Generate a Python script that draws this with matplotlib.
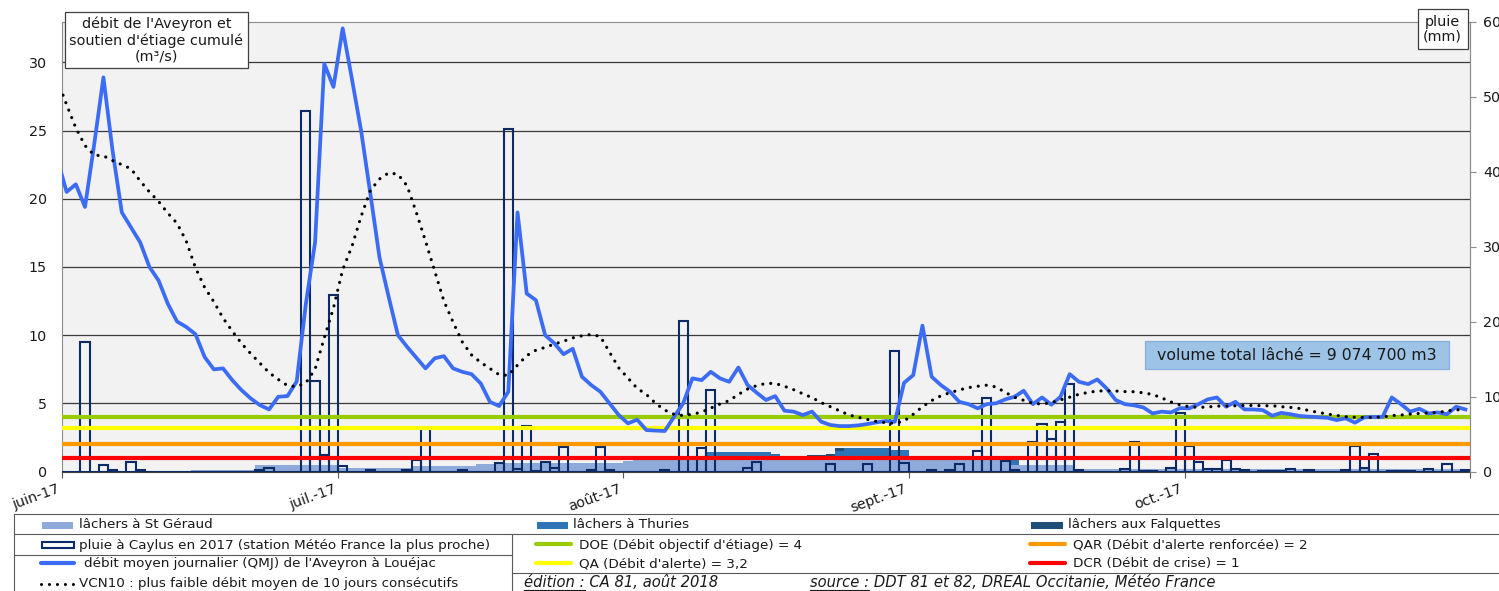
import numpy as np
import matplotlib.pyplot as plt
from matplotlib.lines import Line2D
from matplotlib.patches import Rectangle

# Aveyron à Louéjac - soutien d'étiage 2017
# x : jours depuis le 1er juin 2017 (0 = 1er juin ... 152 = 31 octobre)

mois_pos = [0, 30, 61, 92, 122, 153]
mois_lab = ['juin-17', 'juil.-17', 'août-17', 'sept.-17', 'oct.-17', '']

# débit moyen journalier QMJ (m3/s), premier point = 31 mai
qmj = [22.9,
       20.5, 21.06, 19.4, 24.0, 28.9, 23.5, 19.0, 17.9, 16.8, 15.0,
       14.0, 12.3, 11.0, 10.6, 10.07, 8.4, 7.49, 7.56, 6.7, 5.97,
       5.36, 4.87, 4.55, 5.48, 5.53, 6.6, 12.3, 16.8, 29.9, 28.2,
       32.5, 28.8, 25.0, 20.4, 15.7, 12.8, 10.0, 9.14, 8.35, 7.56,
       8.3, 8.46, 7.56, 7.31, 7.14, 6.46, 5.11, 4.8, 5.85, 19.0,
       13.05, 12.56, 10.0, 9.4, 8.6, 9.0, 6.95, 6.34, 5.85, 5.0, 4.14,
       3.53, 3.8, 3.04, 3.0, 2.97, 4.0, 5.0, 6.83, 6.7, 7.31,
       6.83, 6.58, 7.63, 6.34, 5.77, 5.24, 5.53, 4.46, 4.39, 4.14,
       4.39, 3.65, 3.41, 3.33, 3.33, 3.38, 3.48, 3.6, 3.7, 3.65, 6.5,
       7.07, 10.7, 6.95, 6.34, 5.85, 5.11, 4.94, 4.63, 4.94, 5.0,
       5.29, 5.48, 5.92, 4.94, 5.43, 4.9, 5.48, 7.14, 6.58, 6.41,
       6.75, 6.1, 5.24, 4.94, 4.85, 4.7, 4.26, 4.39, 4.33, 4.65,
       4.63, 4.94, 5.29, 5.43, 4.75, 5.11, 4.55, 4.55, 4.5, 4.09,
       4.3, 4.2, 4.07, 4.02, 3.98, 3.94, 3.77, 3.9, 3.58, 3.97,
       4.0, 4.0, 5.43, 4.94, 4.39, 4.6, 4.26, 4.33, 4.2, 4.75, 4.55]

# VCN10 (m3/s), premier point = 31 mai
vcn10 = [28.7,
         26.9, 25.2, 23.9, 23.2, 23.15, 22.8, 22.5, 22.2, 21.3, 20.5,
         19.8, 18.95, 18.2, 16.9, 14.95, 13.5, 12.45, 11.25, 10.3, 9.4,
         8.65, 7.95, 7.25, 6.75, 6.3, 6.22, 6.5, 7.5, 9.8, 12.0,
         14.8, 16.5, 18.7, 20.6, 21.45, 21.9, 21.8, 20.95, 19.0, 16.9,
         14.7, 12.5, 10.95, 9.5, 8.55, 8.0, 7.55, 7.1, 7.05, 7.8,
         8.5, 8.9, 9.1, 9.35, 9.55, 9.8, 9.95, 10.05, 9.9, 8.75, 7.6,
         6.85, 6.1, 5.65, 5.0, 4.5, 4.2, 4.1, 4.2, 4.35, 4.65,
         4.95, 5.2, 5.65, 6.05, 6.3, 6.46, 6.46, 6.25, 6.0, 5.7,
         5.42, 5.05, 4.75, 4.45, 4.15, 3.98, 3.82, 3.67, 3.58, 3.53, 3.7,
         4.2, 4.75, 5.2, 5.55, 5.78, 5.98, 6.15, 6.25, 6.33, 6.2,
         5.8, 5.45, 5.22, 5.0, 4.95, 5.05, 5.25, 5.45, 5.66, 5.8,
         5.9, 5.92, 5.9, 5.86, 5.85, 5.77, 5.65, 5.4, 5.1, 4.88,
         4.75, 4.7, 4.73, 4.8, 4.8, 4.82, 4.84, 4.84, 4.82, 4.82,
         4.75, 4.7, 4.62, 4.47, 4.33, 4.22, 4.11, 4.02, 3.97, 3.97,
         3.97, 4.0, 4.1, 4.14, 4.21, 4.26, 4.29, 4.33, 4.43, 4.55, 4.42]

# pluie journalière à Caylus (mm), 1er juin -> 31 octobre
pluie = [0, 0, 17.3, 0, 0.9, 0.15, 0, 1.3, 0.15, 0,
         0, 0, 0, 0, 0, 0, 0, 0, 0, 0,
         0, 0.2, 0.45, 0, 0, 0, 48.1, 12.1, 2.2, 23.5,
         0.75, 0, 0, 0.25, 0, 0, 0, 0.2, 1.5, 5.7,
         0, 0, 0, 0.25, 0, 0, 0, 1.1, 45.7, 0.4,
         6.1, 0.1, 1.3, 0.45, 3.3, 0, 0, 0.2, 3.3, 0.2, 0,
         0, 0, 0, 0, 0.2, 0, 20.1, 0, 3.2, 10.9,
         0, 0, 0, 0.5, 1.3, 0, 0, 0, 0, 0,
         0, 0, 0.95, 0, 0, 0, 0.95, 0, 0, 16.1, 1.1,
         0, 0, 0.2, 0, 0.2, 1.0, 0, 2.8, 9.85, 0,
         1.4, 0.2, 0, 3.9, 6.3, 4.3, 6.65, 11.7, 0.2, 0,
         0, 0, 0, 0.3, 4.0, 0.1, 0.1, 0, 0.45, 7.8,
         3.4, 1.25, 0.3, 0.3, 1.5, 0.4, 0.2, 0, 0.1, 0.1,
         0.1, 0.4, 0, 0.2, 0, 0, 0, 0.15, 3.4, 0.45,
         2.3, 0, 0.1, 0.1, 0.1, 0, 0.4, 0, 0.95, 0, 0.2]

# lâchers (m3/s), 1er juin -> 31 octobre
st_geraud = [0, 0, 0, 0, 0, 0, 0, 0, 0, 0,
             0, 0, 0, 0, 0.12, 0.12, 0.12, 0.12, 0.12, 0.12,
             0.12, 0.45, 0.45, 0.45, 0.45, 0.45, 0.45, 0.45, 0.45, 0.45,
             0.28, 0.28, 0.28, 0.28, 0.28, 0.28, 0.28, 0.28, 0.42, 0.42,
             0.42, 0.42, 0.42, 0.42, 0.42, 0.55, 0.55, 0.65, 0.65, 0.65,
             0.65, 0.65, 0.65, 0.65, 0.65, 0.65, 0.65, 0.65, 0.65, 0.65, 0.65,
             0.8, 0.95, 0.95, 0.95, 0.95, 0.95, 0.95, 0.95, 0.95, 0.95,
             0.95, 0.95, 0.95, 0.95, 0.95, 0.95, 0.95, 0.95, 0.95, 0.95,
             0.95, 0.95, 0.95, 0.95, 0.95, 0.95, 0.95, 0.95, 0.95, 0.95, 0.95,
             0.85, 0.85, 0.85, 0.85, 0.85, 0.85, 0.85, 0.85, 0.85, 0.85,
             0.85, 0.45, 0.45, 0.45, 0.45, 0.45, 0.45, 0.45, 0.2, 0.2,
             0.2, 0.2, 0.2, 0.2, 0.2, 0.2, 0.2, 0.2, 0.2, 0.2,
             0.2, 0.2, 0.2, 0.2, 0.2, 0.2, 0.2, 0.2, 0.2, 0.2,
             0.2, 0.2, 0.2, 0.2, 0.2, 0.2, 0.2, 0.2, 0.2, 0.2,
             0.2, 0.2, 0.2, 0.2, 0.2, 0.2, 0.2, 0.2, 0.2, 0.2, 0.2]

thuries = [0, 0, 0, 0, 0, 0, 0, 0, 0, 0,
           0, 0, 0, 0, 0, 0, 0, 0, 0, 0,
           0, 0, 0, 0, 0, 0, 0, 0, 0, 0,
           0, 0, 0, 0, 0, 0, 0, 0, 0, 0,
           0, 0, 0, 0, 0, 0, 0, 0, 0, 0,
           0, 0, 0, 0, 0, 0, 0, 0, 0, 0, 0,
           0, 0, 0, 0, 0, 0, 0, 0, 0, 0.45,
           0.45, 0.45, 0.45, 0.45, 0.45, 0.45, 0.35, 0, 0, 0,
           0, 0, 0, 0.55, 0.8, 0.8, 0.8, 0.8, 0.8, 0.65, 0.65,
           0, 0, 0, 0, 0, 0, 0, 0, 0, 0,
           0, 0.4, 0, 0, 0, 0, 0, 0, 0, 0,
           0, 0, 0, 0, 0, 0, 0, 0, 0, 0,
           0, 0, 0, 0, 0, 0, 0, 0, 0, 0,
           0, 0, 0, 0, 0, 0, 0, 0, 0, 0,
           0, 0, 0, 0, 0, 0, 0, 0, 0, 0, 0]

falquettes = [0, 0, 0, 0, 0, 0, 0, 0, 0, 0,
              0, 0, 0, 0, 0, 0, 0, 0, 0, 0,
              0, 0, 0, 0, 0, 0, 0, 0, 0, 0,
              0, 0, 0, 0, 0, 0, 0, 0, 0, 0,
              0, 0, 0, 0, 0, 0, 0, 0, 0, 0,
              0, 0, 0, 0, 0, 0, 0, 0, 0, 0, 0,
              0, 0, 0, 0.22, 0.22, 0.22, 0.22, 0.22, 0.22, 0,
              0, 0, 0, 0, 0, 0, 0, 0, 0, 0,
              0.25, 0.25, 0.35, 0.25, 0, 0, 0, 0, 0, 0, 0,
              0, 0, 0, 0.3, 0.3, 0.3, 0.3, 0.3, 0, 0,
              0, 0, 0, 0, 0, 0, 0, 0, 0, 0,
              0, 0, 0, 0, 0, 0, 0, 0, 0, 0,
              0, 0, 0, 0, 0, 0, 0, 0, 0, 0,
              0, 0, 0, 0, 0, 0, 0, 0, 0, 0,
              0, 0, 0, 0, 0, 0, 0, 0, 0, 0, 0]

# seuils (m3/s)
doe = 4
qa = 3.2
qar = 2
dcr = 1

volume_txt = 'volume total lâché = 9 074 700 m3'

c_stg = '#8eaadb'
c_thu = '#2e75b6'
c_fal = '#1f4e79'
c_pluie = '#0b2a66'
c_qmj = '#3c6cf5'
c_doe = '#99cc00'
c_qa = '#ffff00'
c_qar = '#ff9900'
c_dcr = '#ff0000'
c_txt = '#1a1a1a'

W, H = 1499, 591
fig = plt.figure(figsize=(W / 100, H / 100), dpi=100)
pos = [62 / W, 1 - 471.5 / H, (1470 - 62) / W, 450 / H]

jours = np.arange(len(pluie))
xq = np.arange(-1, len(pluie)) + 0.5

# axe du fond : lâchers + grille
ax = fig.add_axes(pos)
ax.set_zorder(1)
ax.set_facecolor('#f2f2f2')
ax.set_xlim(0, 153)
ax.set_ylim(0, 33)
ax.set_yticks(range(0, 31, 5))
ax.yaxis.grid(True, color='#3a3a3a', lw=0.9)
ax.set_axisbelow(True)
ax.bar(jours, st_geraud, width=1, align='edge', color=c_stg, lw=0)
b2 = np.array(st_geraud)
ax.bar(jours, thuries, width=1, align='edge', bottom=b2, color=c_thu, lw=0)
b3 = b2 + np.array(thuries)
ax.bar(jours, falquettes, width=1, align='edge', bottom=b3, color=c_fal, lw=0)
ax.set_xticks(mois_pos)
ax.set_xticklabels(mois_lab, rotation=20, ha='right', fontsize=10.3, color=c_txt)
ax.tick_params(axis='x', direction='out', length=4.5, color='#595959', pad=3)
ax.tick_params(axis='y', length=0, pad=11, labelsize=10.3, labelcolor=c_txt)
for s in ['left', 'top', 'right']:
    ax.spines[s].set_color('#8c8c8c')
ax.spines['bottom'].set_color('#404040')

# axe de droite : pluie
ax2 = ax.twinx()
ax2.set_zorder(2)
ax2.set_ylim(0, 60)
ax2.set_yticks(range(0, 61, 10))
ax2.tick_params(axis='y', direction='out', length=4.5, color='#8c8c8c', pad=5,
                labelsize=10.3, labelcolor=c_txt)
for s in ['left', 'top', 'bottom']:
    ax2.spines[s].set_visible(False)
ax2.spines['right'].set_color('#8c8c8c')
ax2.bar(jours, pluie, width=1, align='edge', fill=False, edgecolor=c_pluie, lw=1.5)

# axe de devant : débits et seuils
ax3 = fig.add_axes(pos, sharex=ax, sharey=ax)
ax3.set_zorder(3)
ax3.axis('off')
ax3.axhline(doe, color=c_doe, lw=3)
ax3.axhline(qa, color=c_qa, lw=3)
ax3.axhline(qar, color=c_qar, lw=3)
ax3.axhline(dcr, color=c_dcr, lw=3)
ax3.plot(xq, qmj, color=c_qmj, lw=2.7, solid_joinstyle='round')
ax3.plot(xq, vcn10, color='black', lw=2.3, linestyle=(0, (0.01, 2.5)),
         dash_capstyle='round')

# calque en pixels pour les cadres et la légende
lax = fig.add_axes([0, 0, 1, 1])
lax.set_zorder(4)
lax.set_xlim(0, W)
lax.set_ylim(H, 0)
lax.axis('off')


def boite(x0, y0, x1, y1, fc='white', ec='#404040'):
    lax.add_patch(Rectangle((x0, y0), x1 - x0, y1 - y0, facecolor=fc,
                            edgecolor=ec, lw=0.9))


boite(65, 11.7, 248, 68)
lax.text(156.5, 40, "débit de l'Aveyron et\nsoutien d'étiage cumulé\n(m³/s)",
         ha='center', va='center', fontsize=10.4, color=c_txt, linespacing=1.15)
boite(1417.7, 9.3, 1467.7, 49.3)
lax.text(1442.7, 29.5, 'pluie\n(mm)', ha='center', va='center', fontsize=10.4,
         color=c_txt, linespacing=1.05)
boite(1145, 340.7, 1449, 369, fc='#9dc3e6', ec='#84afe0')
lax.text(1297, 355, volume_txt, ha='center', va='center', fontsize=11.3, color=c_txt)

# tableau de légende
lc = '#595959'
for (x0, x1, y) in [(14, W, 514.3), (14, W, 534.3), (14, 511.7, 555), (511.7, W, 573.3)]:
    lax.add_line(Line2D([x0, x1], [y, y], color=lc, lw=0.8))
lax.add_line(Line2D([14, 14], [514.3, H], color=lc, lw=0.8))
lax.add_line(Line2D([511.7, 511.7], [534.3, H], color=lc, lw=0.8))

fs = 9.7
lax.add_patch(Rectangle((41.7, 521.5), 31.6, 7, color=c_stg, lw=0))
lax.text(79, 524.5, 'lâchers à St Géraud', va='center', fontsize=fs, color=c_txt)
lax.add_patch(Rectangle((536.7, 521.5), 31.6, 7, color=c_thu, lw=0))
lax.text(573.3, 524.5, 'lâchers à Thuries', va='center', fontsize=fs, color=c_txt)
lax.add_patch(Rectangle((1030.7, 521.5), 32.6, 7, color=c_fal, lw=0))
lax.text(1068.3, 524.5, 'lâchers aux Falquettes', va='center', fontsize=fs, color=c_txt)

lax.add_patch(Rectangle((42, 541.7), 32, 6.6, fill=False, edgecolor=c_pluie, lw=1.5))
lax.text(79, 545, 'pluie à Caylus en 2017 (station Météo France la plus proche)',
         va='center', fontsize=fs, color=c_txt)
lax.add_line(Line2D([41, 74], [563.3, 563.3], color=c_qmj, lw=3, solid_capstyle='round'))
lax.text(84, 564, "débit moyen journalier (QMJ) de l'Aveyron à Louéjac",
         va='center', fontsize=fs, color=c_txt)
lax.add_line(Line2D([41, 76], [583.5, 583.5], color='black', lw=2.2,
                    linestyle=(0, (0.01, 2.6)), dash_capstyle='round'))
lax.text(79, 584, 'VCN10 : plus faible débit moyen de 10 jours consécutifs',
         va='center', fontsize=fs, color=c_txt)

for (x0, y, c, t) in [(535, 544.3, c_doe, "DOE (Débit objectif d'étiage) = 4"),
                      (535, 563.3, c_qa, "QA (Débit d'alerte) = 3,2"),
                      (1029, 544.3, c_qar, "QAR (Débit d'alerte renforcée) = 2"),
                      (1029, 563.3, c_dcr, 'DCR (Débit de crise) = 1')]:
    lax.add_line(Line2D([x0 + 1, x0 + 36], [y, y], color=c, lw=3, solid_capstyle='round'))
    lax.text(x0 + 44, y + 0.7, t, va='center', fontsize=fs, color=c_txt)

# pied : édition / source, avec le libellé souligné
r = fig.canvas.get_renderer()
for (x0, lib, reste) in [(524, 'édition :', ' CA 81, août 2018'),
                         (810, 'source :', ' DDT 81 et 82, DREAL Occitanie, Météo France')]:
    t = lax.text(x0, 587, lib + reste, va='baseline', fontsize=10.6, style='italic', color=c_txt)
    tl = lax.text(x0, 587, lib, va='baseline', fontsize=10.6, style='italic', alpha=0)
    bb = tl.get_window_extent(r)
    x1 = x0 + bb.width
    lax.add_line(Line2D([x0, x1], [589.5, 589.5], color=c_txt, lw=0.8))

fig.savefig('out.png', dpi=100)
